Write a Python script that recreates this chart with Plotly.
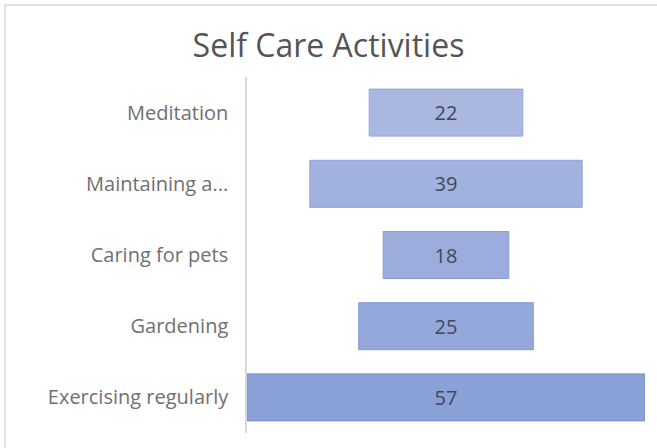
import plotly.graph_objects as go

# ─── DATOS ──────────────────────────────────────────────
actividades = ["Meditation", "Maintaining a...", "Caring for pets", "Gardening", "Exercising regularly"]
valores = [22, 39, 18, 25, 57]
colores = ["#a9b7e1", "#a2b2df", "#9caddd", "#94a8db", "#8aa1d8"]
bordes = ["#93a6d9", "#8ea1d6", "#889dd4", "#8198d2", "#7890cf"]

W, H = 657, 448
L, R, T, B = 247, 12, 77, 15

fig = go.Figure(go.Funnel(
    y=actividades,
    x=valores,
    text=[str(v) for v in valores],
    textinfo="text",
    textposition="inside",
    insidetextanchor="middle",
    textfont=dict(family="Open Sans", size=20, color="#404858"),
    marker=dict(color=colores, line=dict(color=bordes, width=1)),
    connector=dict(visible=False),
    hoverinfo="y+x",
))

maxv = max(valores)
fig.update_layout(
    width=W, height=H,
    paper_bgcolor="white",
    plot_bgcolor="white",
    margin=dict(l=L, r=R, t=T, b=B),
    funnelgap=0.34,
    showlegend=False,
    title=dict(text="Self Care Activities", xref="paper", xanchor="center",
               y=1 - 46 / H, yanchor="middle",
               font=dict(family="Open Sans", size=32, color="#555555")),
    font=dict(family="Open Sans", size=20, color="#707070"),
    xaxis=dict(range=[-maxv / 2, maxv / 2], visible=False, fixedrange=True),
    yaxis=dict(showline=True, linecolor="#d9d9d9", linewidth=1.5, ticks="",
               ticklabelstandoff=13, showgrid=False, automargin=False,
               tickfont=dict(family="Open Sans", size=20, color="#707070")),
)
fig.update_layout(title_x=(W / 2 - L) / (W - L - R))

# marco gris del gráfico
pw, ph = W - L - R, H - T - B
fig.add_shape(type="rect", xref="paper", yref="paper",
              x0=(5 - L) / pw, x1=(W + 20 - L) / pw,
              y0=-(H + 20 - (H - B)) / ph, y1=(H - B - 5) / ph,
              line=dict(color="#d9d9d9", width=1.5), fillcolor="rgba(0,0,0,0)", layer="below")

fig.write_html("out.html", config={"displayModeBar": False},
               post_script="document.body.style.margin='0';")
